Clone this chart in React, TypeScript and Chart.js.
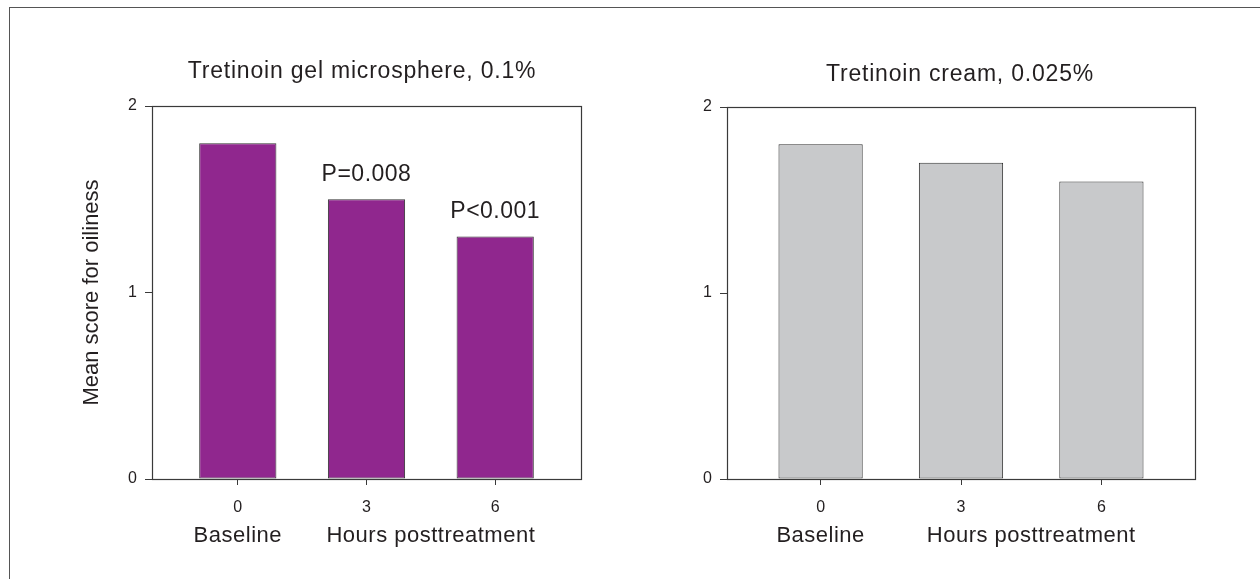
import React, { useEffect, useRef } from 'react';
import { Chart, registerables } from 'chart.js';

Chart.register(...registerables);

const FONT = "'Liberation Sans', Arial, Helvetica, sans-serif";

const hours = [0, 3, 6];
const gelValues = [1.8, 1.5, 1.3];
const creamValues = [1.8, 1.7, 1.6];
const gelPLabels = ['', 'P=0.008', 'P<0.001'];
const creamPLabels = ['', '', ''];
const yTickValues = [0, 1, 2];
const gelTitle = 'Tretinoin gel microsphere, 0.1%';
const creamTitle = 'Tretinoin cream, 0.025%';
const yTitle = 'Mean score for oiliness';
const xLabelBaseline = 'Baseline';
const xLabelHours = 'Hours posttreatment';

type PanelProps = {
  values: number[];
  pLabels: string[];
  color: string;
  title: string;
  showYTitle: boolean;
  left: number;
  width: number;
  padding: { left: number; right: number; top: number; bottom: number };
  titleY: number;
  titleX: number;
};

function Panel(props: PanelProps) {
  const ref = useRef<HTMLCanvasElement | null>(null);
  useEffect(() => {
    const canvas = ref.current;
    if (!canvas) return;
    const { values, pLabels, color, title, showYTitle, padding, titleY, titleX } = props;
    const axisColor = '#3a3a3a';
    const textColor = '#231f20';

    const decor = {
      id: 'decor',
      afterDraw(chart: any) {
        const ctx = chart.ctx as CanvasRenderingContext2D;
        const a = chart.chartArea;
        const xs = chart.scales.x;
        ctx.save();
        // frame
        ctx.strokeStyle = axisColor;
        ctx.lineWidth = 1.2;
        ctx.strokeRect(Math.round(a.left) + 0.5, Math.round(a.top) + 0.5, Math.round(a.right - a.left), Math.round(a.bottom - a.top));
        ctx.fillStyle = textColor;
        ctx.textAlign = 'center';
        ctx.textBaseline = 'middle';
        // title
        ctx.font = `23px ${FONT}`;
        (ctx as any).letterSpacing = '0.8px';
        ctx.fillText(title, titleX, titleY);
        // x labels
        ctx.font = `22px ${FONT}`;
        (ctx as any).letterSpacing = '0.5px';
        ctx.fillText(xLabelBaseline, xs.getPixelForValue(0), 536);
        ctx.fillText(xLabelHours, xs.getPixelForValue(4.5), 536);
        // p labels
        ctx.font = `23px ${FONT}`;
        (ctx as any).letterSpacing = '0.5px';
        const meta = chart.getDatasetMeta(0);
        meta.data.forEach((bar: any, i: number) => {
          if (pLabels[i]) ctx.fillText(pLabels[i], bar.x, bar.y - 25);
        });
        // y title
        if (showYTitle) {
          ctx.font = `22px ${FONT}`;
          (ctx as any).letterSpacing = '0px';
          ctx.translate(92, (a.top + a.bottom) / 2);
          ctx.rotate(-Math.PI / 2);
          ctx.fillText(yTitle, 0, 0);
        }
        ctx.restore();
      },
    };

    const chart = new Chart(canvas, {
      type: 'bar',
      data: {
        datasets: [
          {
            data: hours.map((h, i) => ({ x: h, y: values[i] })),
            backgroundColor: color,
            borderColor: '#333',
            borderWidth: 1,
            borderSkipped: false,
            barPercentage: 0.6,
            categoryPercentage: 1,
          },
        ],
      },
      options: {
        responsive: false,
        animation: false,
        devicePixelRatio: 1,
        layout: { padding },
        plugins: { legend: { display: false }, tooltip: { enabled: false }, title: { display: false } },
        scales: {
          x: {
            type: 'linear',
            min: -2,
            max: 8,
            offset: false,
            afterBuildTicks: (s: any) => {
              s.ticks = hours.map((v) => ({ value: v }));
            },
            afterFit: (s: any) => {
              s.height = 60;
            },
            grid: { offset: false, drawOnChartArea: false, drawTicks: true, tickLength: 6, color: axisColor },
            border: { display: true, color: axisColor },
            ticks: { font: { size: 16, family: FONT }, color: textColor, padding: 13 },
          },
          y: {
            min: 0,
            max: 2,
            afterBuildTicks: (s: any) => {
              s.ticks = yTickValues.map((v) => ({ value: v }));
            },
            afterFit: (s: any) => {
              s.width = 50;
            },
            grid: { drawOnChartArea: false, drawTicks: true, tickLength: 7, color: axisColor },
            border: { display: true, color: axisColor },
            ticks: { font: { size: 16, family: FONT }, color: textColor, padding: 8 },
          },
        },
      },
      plugins: [decor],
    } as any);
    return () => chart.destroy();
  }, []);
  return (
    <canvas
      ref={ref}
      width={props.width}
      height={579}
      style={{ position: 'absolute', left: props.left, top: 0, width: props.width, height: 579 }}
    />
  );
}

export default function App() {
  return (
    <div
      style={{
        position: 'fixed',
        left: 0,
        top: 0,
        width: 1260,
        height: 579,
        overflow: 'hidden',
        background: '#fff',
      }}
    >
      <div
        style={{
          position: 'absolute',
          left: 9,
          top: 7,
          width: 1300,
          height: 620,
          border: '1.5px solid #555',
        }}
      />
      <Panel
        values={gelValues}
        pLabels={gelPLabels}
        color="#90278E"
        title={gelTitle}
        showYTitle={true}
        left={0}
        width={640}
        padding={{ left: 102, right: 59, top: 106, bottom: 40 }}
        titleY={72}
        titleX={362}
      />
      <Panel
        values={creamValues}
        pLabels={creamPLabels}
        color="#C8C9CB"
        title={creamTitle}
        showYTitle={false}
        left={640}
        width={620}
        padding={{ left: 37, right: 65, top: 107, bottom: 40 }}
        titleY={75}
        titleX={320}
      />
    </div>
  );
}
